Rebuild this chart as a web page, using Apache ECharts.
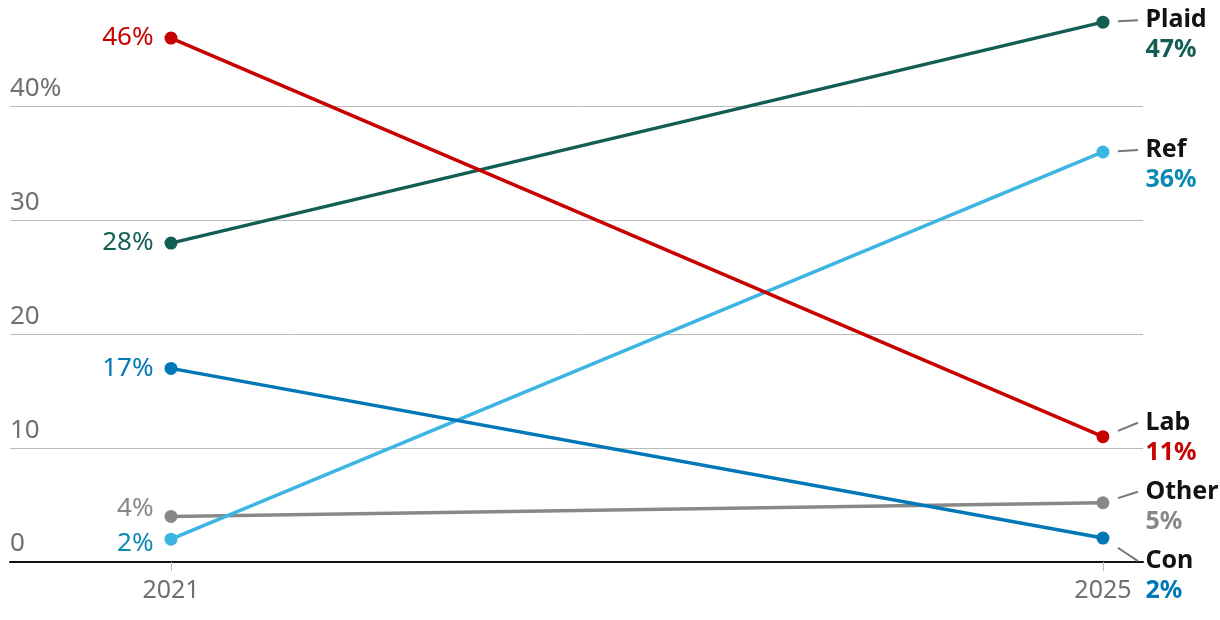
<!DOCTYPE html>
<html>
<head>
<meta charset="utf-8">
<script src="https://cdn.jsdelivr.net/npm/echarts@6/dist/echarts.min.js"></script>
<style>
  html, body { margin: 0; padding: 0; background: #fff; }
  #chart { width: 1220px; height: 620px; }
</style>
</head>
<body>
<div id="chart"></div>
<script>
// data
var years = [2021, 2025];
var parties = ['Other', 'Ref', 'Plaid', 'Con', 'Lab'];
var other = [4.0, 5.2];
var ref = [2.0, 36.0];
var plaid = [28.0, 47.4];
var con = [17.0, 2.1];
var lab = [46.0, 11.0];
var yTicks = [0, 10, 20, 30, 40];

var lineColors = { Other: '#888888', Ref: '#3db5e3', Plaid: '#135e54', Con: '#0077b6', Lab: '#c70000' };
var textColors = { Other: '#888888', Ref: '#0a8ab3', Plaid: '#135e54', Con: '#0077b6', Lab: '#c70000' };
// vertical nudges of labels (px), so they don't collide
var labelShift = { Other: -11, Ref: -2, Plaid: -2, Con: 23, Lab: -14 };
var leftShift = { Other: -8, Ref: 4, Plaid: 0, Con: 0, Lab: 0 };

var values = { Other: other, Ref: ref, Plaid: plaid, Con: con, Lab: lab };
var font = '"Noto Sans", "Open Sans", sans-serif';

function makeSeries(name) {
  var vals = values[name];
  return {
    name: name,
    type: 'line',
    data: years.map(function (y, i) { return [y, vals[i]]; }),
    symbol: 'circle',
    symbolSize: 13,
    lineStyle: { width: 3.5, color: lineColors[name] },
    itemStyle: { color: lineColors[name] },
    label: {
      show: true,
      formatter: function (p) {
        var v = Math.round(p.value[1]) + '%';
        if (p.dataIndex === 0) return v;
        return '{n|' + name + '}\n{v|' + v + '}';
      }
    },
    emphasis: { disabled: true },
    z: 3
  };
}

var series = parties.map(makeSeries);
// left label / right label styles per point
series.forEach(function (s) {
  var name = s.name;
  s.data = s.data.map(function (d, i) {
    if (i === 0) {
      return {
        value: d,
        label: {
          position: 'left', distance: 11, offset: [0, leftShift[name]],
          color: textColors[name], fontSize: 26, fontFamily: font
        }
      };
    }
    return {
      value: d,
      label: {
        position: 'right',
        distance: 36,
        offset: [0, 15 + labelShift[name]],
        rich: {
          n: { fontSize: 25, fontWeight: 'bold', color: '#121212', fontFamily: font, lineHeight: 30 },
          v: { fontSize: 25, fontWeight: 'bold', color: textColors[name], fontFamily: font, lineHeight: 30 }
        }
      }
    };
  });
});

var chart = echarts.init(document.getElementById('chart'));
var option = {
  animation: false,
  grid: { left: 10, right: 77, top: 15.3, bottom: 58 },
  xAxis: {
    type: 'value',
    min: 2020.309,
    max: 2025.172,
    splitLine: { show: false },
    axisLine: { show: true, lineStyle: { color: '#121212', width: 2 } },
    axisTick: { show: true, customValues: years, length: 9, lineStyle: { color: '#bbbbbb', width: 1 } },
    axisLabel: {
      customValues: years,
      formatter: function (v) { return String(v); },
      color: '#707070',
      fontSize: 25,
      fontFamily: font,
      margin: 16
    }
  },
  yAxis: {
    type: 'value',
    min: 0,
    max: 48,
    interval: 10,
    axisLine: { show: false },
    axisTick: { show: false },
    splitLine: {
      show: true,
      lineStyle: { color: ['#bababa', '#bababa', '#bababa', '#bababa', '#bababa', 'rgba(0,0,0,0)'], width: 1 }
    },
    axisLabel: {
      inside: true,
      margin: 0,
      showMaxLabel: false,
      verticalAlign: 'bottom',
      align: 'left',
      padding: [0, 0, 5, 0],
      color: '#707070',
      fontSize: 26,
      fontFamily: font,
      formatter: function (v) {
        if (yTicks.indexOf(v) < 0) return '';
        return v === 40 ? v + '%' : String(v);
      }
    }
  },
  series: series
};
chart.setOption(option);

// leader lines for the right-hand labels
var graphics = [];
parties.forEach(function (name, k) {
  var p = chart.convertToPixel({ seriesIndex: k }, [years[1], values[name][1]]);
  var s = labelShift[name];
  graphics.push({
    type: 'line',
    shape: { x1: p[0] + 15, y1: p[1] + s * 0.42, x2: p[0] + 35, y2: p[1] + s },
    style: { stroke: '#777777', lineWidth: 2 },
    z: 10
  });
});
chart.setOption({ graphic: graphics });
</script>
</body>
</html>
